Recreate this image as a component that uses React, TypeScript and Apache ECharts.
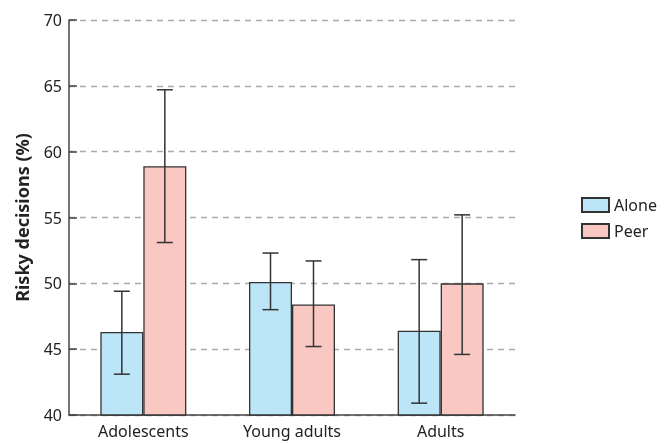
import React, { useEffect, useRef } from "react";
import * as echarts from "echarts";

const categories = ["Adolescents", "Young adults", "Adults"];
const aloneValues = [46.3, 50.1, 46.4];
const peerValues = [58.9, 48.4, 50.0];
const aloneLow = [43.1, 48.0, 40.9];
const aloneHigh = [49.4, 52.3, 51.8];
const peerLow = [53.1, 45.2, 44.6];
const peerHigh = [64.7, 51.7, 55.2];

const BAR_W = 43;
const CAP = 16;
const FONT = "Noto Sans";

function errorSeries(name: string, low: number[], high: number[], dir: number) {
  return {
    type: "custom",
    name,
    z: 10,
    data: categories.map((_, i) => [i, low[i], high[i]]),
    encode: { x: 0, y: [1, 2] },
    renderItem: (params: any, api: any) => {
      const i = api.value(0);
      const lo = api.coord([i, api.value(1)]);
      const hi = api.coord([i, api.value(2)]);
      const x = lo[0] + (dir * BAR_W) / 2;
      const style = { stroke: "#333", lineWidth: 1.5 };
      return {
        type: "group",
        children: [
          { type: "line", shape: { x1: x, y1: lo[1], x2: x, y2: hi[1] }, style },
          { type: "line", shape: { x1: x - CAP / 2, y1: hi[1], x2: x + CAP / 2, y2: hi[1] }, style },
          { type: "line", shape: { x1: x - CAP / 2, y1: lo[1], x2: x + CAP / 2, y2: lo[1] }, style },
        ],
      };
    },
  };
}

export default function App() {
  const ref = useRef<HTMLDivElement>(null);
  useEffect(() => {
    const chart = echarts.init(ref.current!, null, { renderer: "svg" });
    chart.setOption({
      animation: false,
      textStyle: { fontFamily: FONT },
      grid: { left: 69, right: 149, top: 20, bottom: 28, containLabel: false },
      legend: {
        data: ["Alone", "Peer"],
        orient: "vertical",
        left: 576,
        top: 192,
        itemWidth: 27,
        itemHeight: 14,
        itemGap: 10,
        icon: "rect",
        textStyle: { fontSize: 16, color: "#222", fontFamily: FONT },
      },
      xAxis: {
        type: "category",
        data: categories,
        axisLine: { lineStyle: { color: "#444", width: 1.5 } },
        axisTick: { inside: true, length: 8, lineStyle: { color: "#444", width: 1.5 } },
        axisLabel: { fontSize: 16, color: "#222", margin: 7, lineHeight: 18, fontFamily: FONT },
      },
      yAxis: {
        type: "value",
        min: 40,
        max: 70,
        interval: 5,
        name: "Risky decisions (%)",
        nameLocation: "middle",
        nameGap: 38,
        nameTextStyle: { fontSize: 18, fontWeight: "bold", color: "#222", fontFamily: FONT },
        axisLine: { show: true, lineStyle: { color: "#444", width: 1.5 } },
        axisTick: { show: true, inside: true, length: 8, lineStyle: { color: "#444", width: 1.5 } },
        axisLabel: { fontSize: 16, color: "#222", margin: 7, fontFamily: FONT },
        splitLine: { lineStyle: { color: "#aaa", type: [6, 5], width: 1.3 } },
      },
      series: [
        {
          name: "Alone",
          type: "bar",
          data: aloneValues,
          barWidth: BAR_W,
          barGap: "0%",
          itemStyle: { color: "#bce5f8", borderColor: "#333", borderWidth: 1.3 },
        },
        {
          name: "Peer",
          type: "bar",
          data: peerValues,
          barWidth: BAR_W,
          barGap: "0%",
          itemStyle: { color: "#f9c8c3", borderColor: "#333", borderWidth: 1.3 },
        },
        errorSeries("AloneErr", aloneLow, aloneHigh, -1),
        errorSeries("PeerErr", peerLow, peerHigh, 1),
      ],
    });
    return () => chart.dispose();
  }, []);
  return <div ref={ref} style={{ position: "fixed", left: 0, top: 0, width: 664, height: 443 }} />;
}
